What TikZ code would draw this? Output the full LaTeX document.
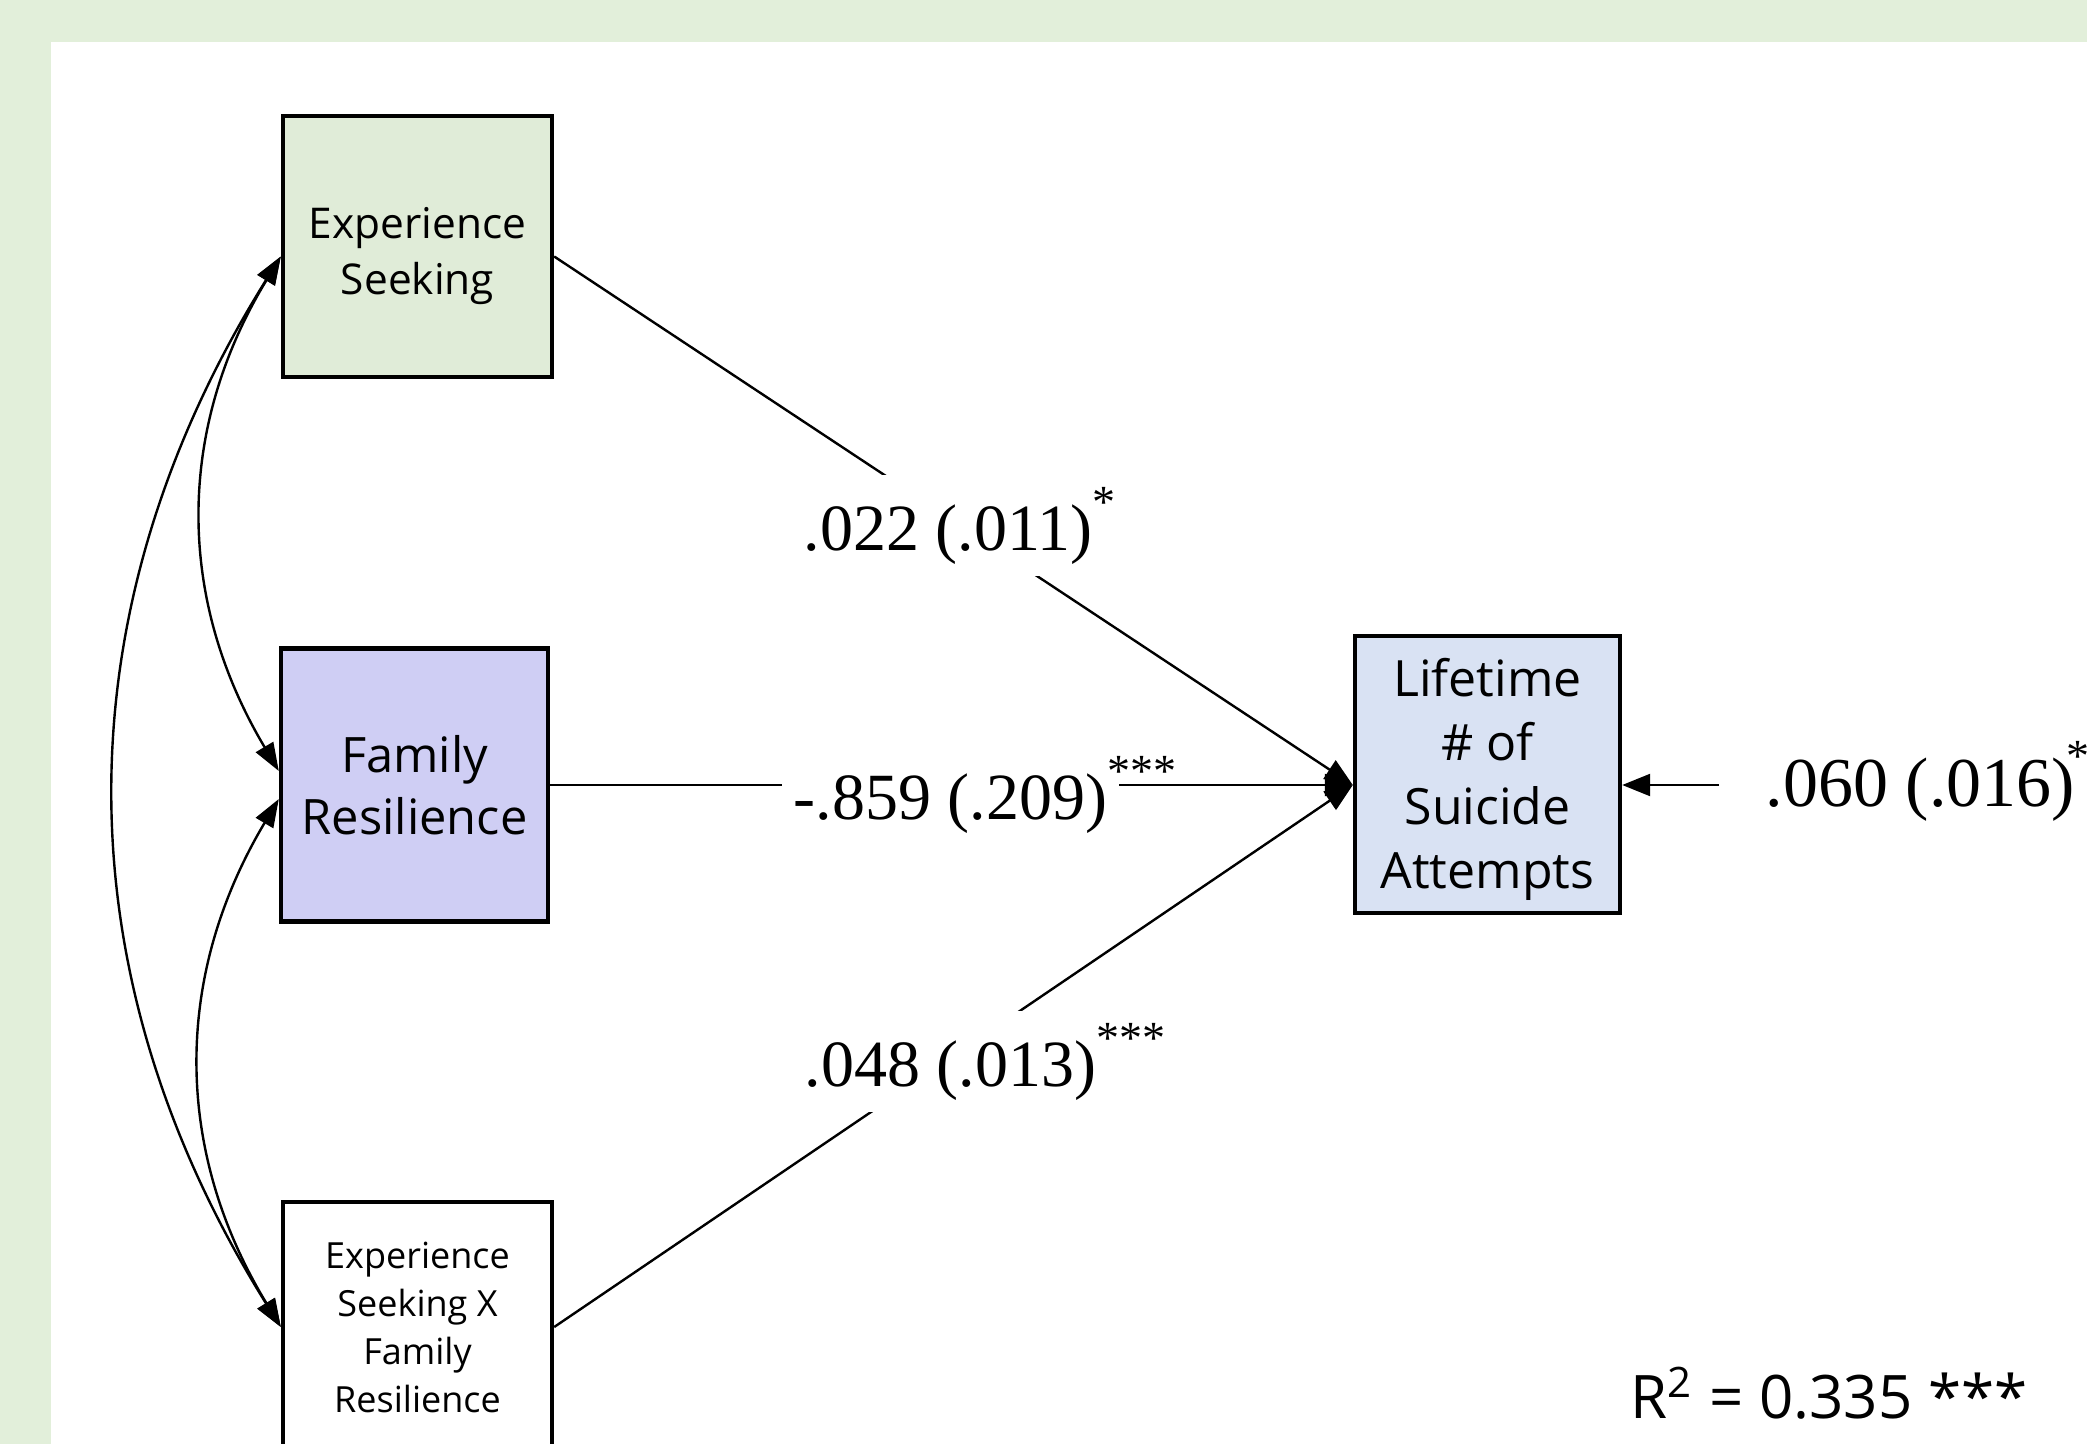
\documentclass[tikz,border=0pt]{standalone}
\usepackage{fontspec}
\setmainfont{Liberation Serif}
\newfontfamily\boxfont{Open Sans}
\usetikzlibrary{arrows.meta}

\definecolor{framegreen}{RGB}{226,239,218}
\definecolor{esfill}{RGB}{224,236,216}
\definecolor{frfill}{RGB}{207,206,244}
\definecolor{lifefill}{RGB}{217,226,243}

% raised significance stars
\newcommand\sig[1]{\raisebox{0.5em}{\fontsize{11.5pt}{11.5pt}\selectfont #1}}

\begin{document}
\begin{tikzpicture}[x=0.25pt, y=-0.25pt,
  box/.style={draw=black, line width=1.1pt, inner sep=0pt},
  boxtext/.style={align=center, inner sep=0pt},
  arr/.style={line width=0.6pt, -{Triangle[length=7pt,width=5.5pt]}},
  cov/.style={line width=0.6pt, {Triangle[length=7pt,width=5pt]}-{Triangle[length=7pt,width=5pt]}},
  lab/.style={fill=white, inner sep=3pt, anchor=base west,
              font=\fontsize{16.5pt}{18pt}\selectfont}]

\useasboundingbox (0,0) rectangle (2087,1444);
\clip (0,0) rectangle (2087,1444);

% frame and canvas
\fill[framegreen] (0,0) rectangle (2087,1444);
\fill[white] (51,42) rectangle (2087,1444);

% variables
\node[box, fill=esfill, minimum width=67.25pt, minimum height=65.25pt] (es) at (417.5,246.5) {};
\node[boxtext, font=\boxfont\fontsize{10.6pt}{14pt}\selectfont] (estext) at ([yshift=-2.5pt]es.center) {Experience\\Seeking};

\node[box, fill=frfill, minimum width=66.75pt, minimum height=68.25pt] (fr) at (414.5,785) {};
\node[boxtext, font=\boxfont\fontsize{12.2pt}{15.5pt}\selectfont] (frtext) at (fr.center) {Family\\Resilience};

\node[box, fill=white, minimum width=67.25pt, minimum height=62.5pt] (int) at (417.5,1327) {};
\node[boxtext, font=\boxfont\fontsize{9pt}{12pt}\selectfont] (inttext) at (int.center) {Experience\\Seeking X\\Family\\Resilience};

\node[box, fill=lifefill, minimum width=66.25pt, minimum height=69.25pt] (life) at (1487.5,774.5) {};
\node[boxtext, font=\boxfont\fontsize{12.5pt}{16pt}\selectfont] (lifetext) at ([yshift=-1.2pt]life.center) {Lifetime\\\# of\\Suicide\\Attempts};

\coordinate (tip) at (life.west |- fr.east);

% regression paths
\draw[arr] ([yshift=-2.5pt]es.east) -- (tip);
\draw[arr] (fr.east) -- (tip);
\draw[arr] (int.east) -- (tip);

% path coefficients
\node[lab] (l1) at (791,550) {.022 (.011)\sig{*}};
\node[lab] (l2) at (781,819) {-.859 (.209)\rlap{\sig{***}}};
\node[lab] (l3) at (792,1086) {.048 (.013)\sig{***}};

% residual
\node[anchor=base west, inner sep=0pt, font=\fontsize{17.5pt}{20pt}\selectfont] (res) at (1765,806) {.060 (.016)\kern-0.12em\sig{*}};
\coordinate (restail) at ([xshift=-11.5pt]res.west);
\draw[arr] (restail |- tip) -- (tip -| life.east);

% covariances
\draw[cov] ([yshift=-2.5pt]es.west) to[bend right=31] ([yshift=3.5pt]fr.west);
\draw[cov] ([yshift=-3.5pt]fr.west) to[bend right=31] (int.west);
\draw[cov] ([yshift=-2.5pt]es.west) to[bend right=32] (int.west);

% fit
\node[anchor=base west, inner sep=0pt, font=\boxfont\fontsize{15pt}{16pt}\selectfont] (rsq) at (1630,1418) {R\textsuperscript{2} = 0.335 ***};

\end{tikzpicture}
\end{document}
